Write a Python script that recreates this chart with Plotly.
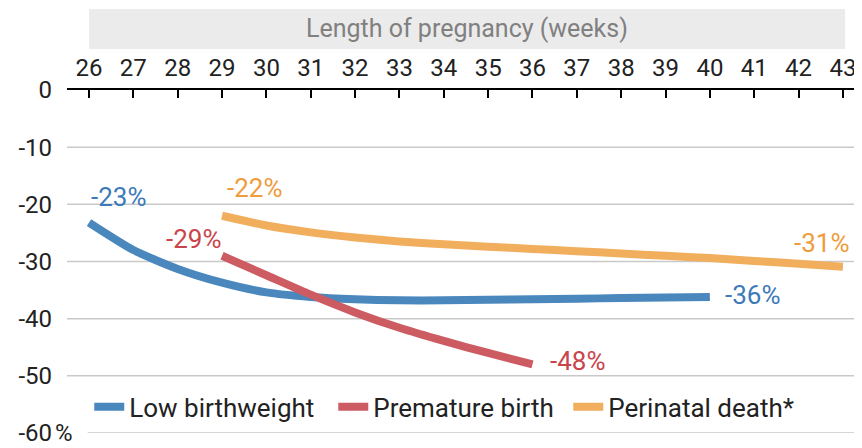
import plotly.graph_objects as go

# weeks of pregnancy and % change for each outcome
weeks_lbw = list(range(26, 41))
low_birthweight = [-23.2, -28.0, -31.3, -33.7, -35.4, -36.2, -36.6, -36.8,
                   -36.8, -36.7, -36.6, -36.5, -36.4, -36.3, -36.2]

weeks_pre = list(range(29, 37))
premature_birth = [-29.0, -32.4, -35.8, -38.9, -41.6, -43.9, -46.0, -48.0]

weeks_peri = list(range(29, 44))
perinatal_death = [-22.0, -23.7, -24.9, -25.8, -26.5, -27.0, -27.4, -27.8,
                   -28.2, -28.6, -29.0, -29.4, -29.9, -30.4, -30.9]

x_ticks = list(range(26, 44))
y_ticks = [0, -10, -20, -30, -40, -50, -60]
y_ticktext = ["0", "-10", "-20", "-30", "-40", "-50", "-60"]

BLUE, RED, ORANGE = "#4a87bd", "#cd5b62", "#f1ae5c"
BLUE_T, RED_T, ORANGE_T = "#3c7ab8", "#c8454c", "#ef9c3c"
NARROW = "Liberation Sans Narrow, Roboto, sans-serif"
TEXT = "Roboto, Liberation Sans, sans-serif"

fig = go.Figure()
series = [("Low birthweight", weeks_lbw, low_birthweight, BLUE, 199),
          ("Premature birth", weeks_pre, premature_birth, RED, 190),
          ("Perinatal death*", weeks_peri, perinatal_death, ORANGE, None)]
for name, xs, ys, col, lw in series:
    fig.add_trace(go.Scatter(x=xs, y=ys, name=name, mode="lines", legendwidth=lw,
                             line=dict(color=col, width=8, shape="spline", smoothing=0.6)))

# end-point labels
labels = [
    (weeks_lbw[0], low_birthweight[0], BLUE_T, 29, 26),
    (weeks_peri[0], perinatal_death[0], ORANGE_T, 32, 28),
    (weeks_pre[0], premature_birth[0], RED_T, -29, 17),
    (weeks_lbw[-1], low_birthweight[-1], BLUE_T, 43, 2),
    (weeks_pre[-1], premature_birth[-1], RED_T, 45, 3),
    (weeks_peri[-1], perinatal_death[-1], ORANGE_T, -21, 24),
]
for x, y, col, dx, dy in labels:
    fig.add_annotation(x=x, y=y, text=f"{round(y):d}%", showarrow=False,
                       xanchor="center", yanchor="middle",
                       xshift=dx, yshift=dy, font=dict(family=TEXT, size=26, color=col))

# gridlines
for v in y_ticks[1:]:
    fig.add_shape(type="line", xref="paper", yref="y", x0=0.026 if v == -60 else 0, x1=1,
                  y0=v, y1=v, line=dict(color="#c9c9c9", width=1.5), layer="below")

# "%" after the last y label
fig.add_annotation(xref="paper", yref="y", x=-0.018, y=-60, xanchor="left", yanchor="middle",
                   text="%", showarrow=False, font=dict(family=NARROW, size=24, color="#222"))

# header box
fig.add_shape(type="rect", xref="paper", yref="paper", x0=0.0277, x1=0.9786,
              y0=1.1195, y1=1.236, fillcolor="#ebebeb", line=dict(width=0), layer="below")
fig.add_annotation(xref="paper", yref="paper", x=0.503, y=1.178, xanchor="center", yanchor="middle",
                   text="Length of pregnancy (weeks)", showarrow=False,
                   font=dict(family=TEXT, size=25, color="#808080"))

# page body has an 8px margin, so the figure is 8px smaller than the window
fig.update_layout(
    width=854, height=440,
    margin=dict(l=59, r=0, t=82, b=15),
    paper_bgcolor="white", plot_bgcolor="white",
    showlegend=True,
    legend=dict(orientation="h", x=0.028, y=0.076, xanchor="left", yanchor="middle",
                font=dict(family=TEXT, size=26, color="#222"), bgcolor="rgba(0,0,0,0)",
                itemwidth=30, tracegroupgap=0),
    xaxis=dict(side="top", range=[25.504, 43.43], tickvals=x_ticks, showgrid=False,
               zeroline=False, showline=True, linecolor="black", linewidth=1.5,
               ticks="inside", ticklen=8, tickwidth=1.5, tickcolor="black",
               tickfont=dict(family=NARROW, size=24, color="#222"), ticklabelstandoff=3),
    yaxis=dict(range=[-60, 0], tickvals=y_ticks, ticktext=y_ticktext, showgrid=False,
               zeroline=False, showline=False, ticks="",
               tickfont=dict(family=NARROW, size=24, color="#222"), ticklabelstandoff=14),
)

fig.write_html("out.html")
